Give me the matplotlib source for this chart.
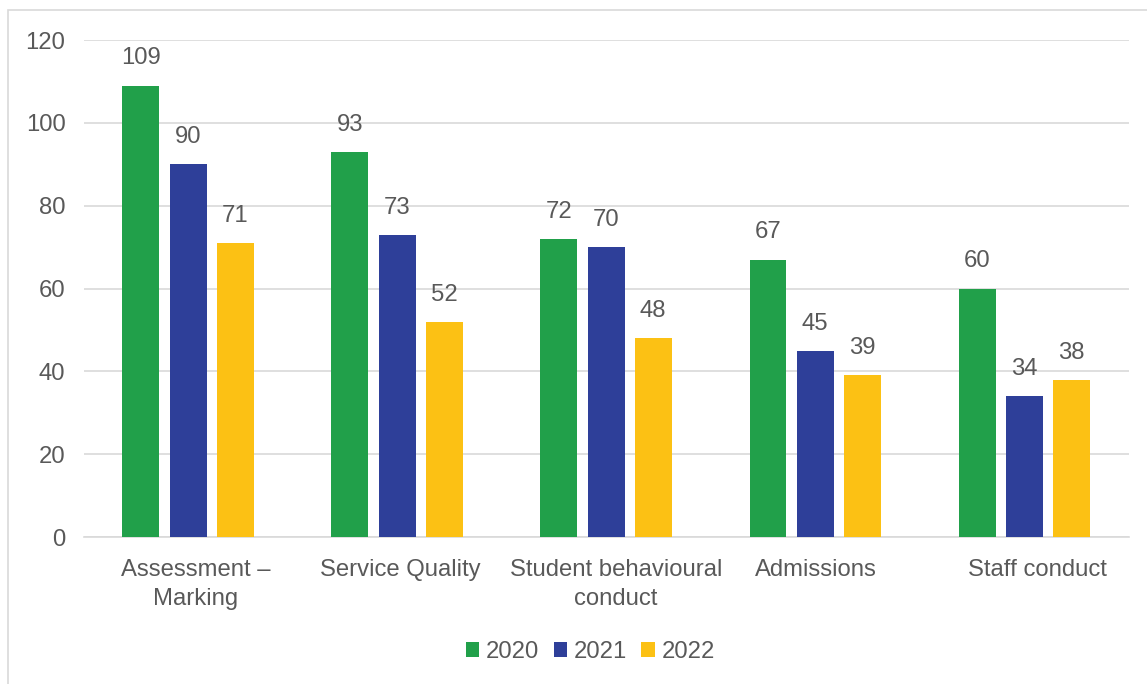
import matplotlib.pyplot as plt
import matplotlib.transforms as mtransforms
import numpy as np
from matplotlib.patches import Rectangle

plt.rcParams["font.family"] = ["Liberation Sans", "DejaVu Sans"]

categories = ["Assessment –\nMarking", "Service Quality", "Student behavioural\nconduct", "Admissions", "Staff conduct"]
years = ["2020", "2021", "2022"]
v2020 = [109, 93, 72, 67, 60]
v2021 = [90, 73, 70, 45, 34]
v2022 = [71, 52, 48, 39, 38]
colors = ["#21A04A", "#2E3F99", "#FCC114"]
txt = "#595959"
fs = 17.2

fig = plt.figure(figsize=(11.47, 6.84), dpi=100)
ax = fig.add_axes([0.0728, 0.2149, 0.9111, 0.7266])

x = np.arange(len(categories))
w = 0.177
step = 0.225
for i, (vals, yr) in enumerate(zip([v2020, v2021, v2022], years)):
    bars = ax.bar(x + (i - 1) * step, vals, w, color=colors[i], label=yr, zorder=3)
    for b, v in zip(bars, vals):
        ax.annotate(str(v), (b.get_x() + b.get_width() / 2, v), xytext=(0, 19.5),
                    textcoords="offset points", ha="center", va="center",
                    fontsize=fs, color=txt)

ax.set_xlim(-0.5, len(categories) - 0.5)
ax.set_ylim(0, 120)
ax.set_yticks(range(0, 121, 20))
ax.yaxis.grid(True, color="#d9d9d9", linewidth=1.2, zorder=0)
for s in ["top", "right", "left"]:
    ax.spines[s].set_visible(False)
ax.spines["bottom"].set_color("#d9d9d9")
ax.spines["bottom"].set_linewidth(1.2)
ax.tick_params(length=0, labelsize=fs, labelcolor=txt)
ax.tick_params(axis="y", pad=13)
ax.tick_params(axis="x", pad=16)
ax.set_xticks(x)
ax.set_xticklabels(categories, linespacing=1.37, va="top")

# the category labels sit slightly right of the bar groups in the original
shifts = [8, 3, 10, 1, 13]
for lab, dx in zip(ax.get_xticklabels(), shifts):
    lab.set_transform(lab.get_transform() + mtransforms.ScaledTranslation(dx / 100, 0, fig.dpi_scale_trans))

ax.legend(loc="center", bbox_to_anchor=(0.485, -0.231), ncol=3, frameon=False,
          fontsize=fs, labelcolor=txt, handlelength=0.55, handleheight=0.55,
          handletextpad=0.3, columnspacing=0.6)

fig.patches.append(Rectangle((8 / 1147, -0.1), 1.2, 1 - 10 / 684 + 0.1, transform=fig.transFigure,
                             fill=False, edgecolor="#d9d9d9", linewidth=1.2))

fig.savefig("out.png", dpi=100)
